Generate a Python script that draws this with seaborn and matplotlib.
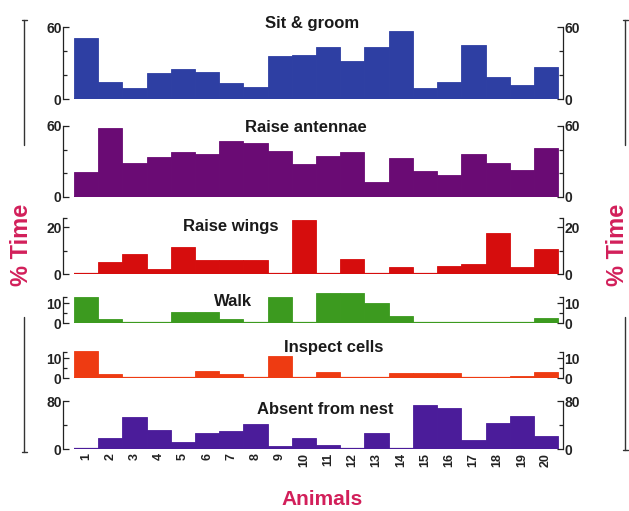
import matplotlib
matplotlib.use("Agg")
import matplotlib.pyplot as plt
import seaborn as sns
import pandas as pd
from matplotlib.lines import Line2D
from matplotlib.ticker import FixedLocator

animals = [str(i) for i in range(1, 21)]

sit_groom = [51.5, 14.8, 9.3, 21.8, 25, 23, 13.5, 10.7, 36, 37,
             44, 32, 44, 57, 9.3, 14.8, 45.4, 18.5, 12, 27.3]
raise_antennae = [21.2, 58, 28.3, 34, 38, 36, 47.5, 45.3, 39, 28,
                  34.5, 37.7, 12.7, 33, 21.8, 18.4, 36, 28.3, 22.7, 41]
raise_wings = [0, 5.3, 8.6, 2, 11.4, 6, 6, 6, 0, 23,
               0, 6.2, 0, 3, 0, 3.2, 4.4, 17.3, 3, 10.6]
walk = [13.2, 2.1, 0, 0, 5.8, 5.8, 2.1, 0, 13.2, 0,
        15, 15, 10, 3.8, 0, 0, 0, 0, 0, 2.8]
inspect_cells = [13.3, 1.8, 0, 0, 0, 3.6, 2.2, 0, 10.9, 0,
                 3.1, 0, 0, 2.5, 2.5, 2.5, 0, 0, 1, 2.8]
absent = [0, 18, 53.6, 31.7, 10.9, 26.3, 30, 41, 4.4, 18,
          7, 0, 26, 0, 73, 69, 15, 42.7, 54.7, 22]

titles = ["Sit & groom", "Raise antennae", "Raise wings", "Walk",
          "Inspect cells", "Absent from nest"]
series = [sit_groom, raise_antennae, raise_wings, walk, inspect_cells, absent]
tick_tops = [60, 60, 20, 10, 10, 80]

W, H = 629, 511
sns.set_theme(style="white")
plt.rcParams["font.family"] = ["Liberation Sans", "DejaVu Sans"]
plt.rcParams["font.weight"] = "bold"

fig = plt.figure(figsize=(W / 100, H / 100), dpi=100)
fig.patch.set_facecolor("white")

# panel layout: (top px, bottom px, ylim top, spine top, minor ticks, colour, title pos)
layout = [
    (25.1, 99.5, 62, 60, [20, 40], "#2e3fa3", (312, 23)),
    (124.8, 196.7, 61, 60, [20, 40], "#6a0b74", (306, 128)),
    (215.3, 274.0, 25, 24, [10], "#d60d0d", (231, 226)),
    (291.3, 323.3, 16, 13, [5], "#3c9a1f", (233, 301)),
    (350.0, 378.0, 14, 13, [5], "#ee3b12", (334, 347)),
    (398.0, 449.0, 85, 80, [40], "#4b1c9a", (325, 410)),
]

x_left, x_right = 63, 563

for i, (title, vals, ttop, (top, bot, ymax, stop, minors, col, tpos)) in enumerate(
        zip(titles, series, tick_tops, layout)):
    ax = fig.add_axes([x_left / W, 1 - bot / H, (x_right - x_left) / W, (bot - top) / H])
    ax.set_facecolor("none")
    df = pd.DataFrame({"animal": animals, "pct": vals})
    sns.barplot(data=df, x="animal", y="pct", color=col, width=1.0,
                saturation=1, edgecolor=col, linewidth=0.6, errorbar=None, ax=ax)
    ax.hlines(0, -0.5, 19.5, color=col, lw=1.6, zorder=3)
    ax.set_xlim(-0.95, 19.7)
    ax.set_ylim(0, ymax)
    ax.set_xlabel("")
    ax.set_ylabel("")
    for s in ("top", "bottom"):
        ax.spines[s].set_visible(False)
    for s in ("left", "right"):
        ax.spines[s].set_visible(True)
        ax.spines[s].set_color("#222222")
        ax.spines[s].set_linewidth(0.9)
        ax.spines[s].set_bounds(0, stop)
    ax.set_yticks([0, ttop])
    ax.set_yticklabels(["0", str(ttop)])
    ax.yaxis.set_minor_locator(FixedLocator(minors + ([stop] if stop != ttop else [])))
    ax.tick_params(axis="y", which="both", direction="in", left=True, right=True,
                   labelleft=True, labelright=True, colors="#222222",
                   labelsize=10, pad=1, width=0.9)
    ax.tick_params(axis="y", which="major", length=4)
    ax.tick_params(axis="y", which="minor", length=3)
    for lab in ax.get_yticklabels():
        lab.set_fontweight("bold")
    if i < len(titles) - 1:
        ax.tick_params(axis="x", bottom=False, labelbottom=False)
    else:
        ax.tick_params(axis="x", bottom=False, labelbottom=True, length=0,
                       pad=3, labelsize=9, colors="#222222")
        for lab in ax.get_xticklabels():
            lab.set_rotation(90)
            lab.set_fontweight("bold")
    fig.text(tpos[0] / W, 1 - tpos[1] / H, title, ha="center", va="center",
             fontsize=12, fontweight="bold", color="#1a1a1a")

crimson = "#d21f5a"
fig.text(21 / W, 1 - 245 / H, "% Time", rotation=90, ha="center", va="center",
         fontsize=17, fontweight="bold", color=crimson)
fig.text(617 / W, 1 - 245 / H, "% Time", rotation=90, ha="center", va="center",
         fontsize=17, fontweight="bold", color=crimson)
fig.text(322 / W, 1 - 499 / H, "Animals", ha="center", va="center",
         fontsize=15, fontweight="bold", color=crimson)

# bracket lines flanking the % Time labels
line_col = "#333333"
for xv, segs in ((24, [(20, 145), (317, 452)]), (625, [(20, 145), (317, 450)])):
    for y1, y2 in segs:
        fig.add_artist(Line2D([xv / W, xv / W], [1 - y1 / H, 1 - y2 / H],
                              transform=fig.transFigure, color=line_col, lw=1.0))
    for yc in (segs[0][0], segs[1][1]):
        fig.add_artist(Line2D([(xv - 2.5) / W, (xv + 2.5) / W], [1 - yc / H, 1 - yc / H],
                              transform=fig.transFigure, color=line_col, lw=1.0))

fig.savefig("out.png", dpi=100, facecolor="white")
